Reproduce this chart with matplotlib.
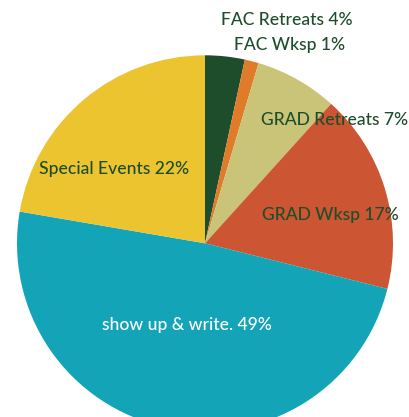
import matplotlib
matplotlib.use("Agg")
import matplotlib.pyplot as plt

categories = ["FAC Retreats", "FAC Wksp", "GRAD Retreats", "GRAD Wksp", "show up & write.", "Special Events"]
values = [3.4, 1.2, 7.1, 17.2, 48.8, 22.3]
label_pct = ["4%", "1%", "7%", "17%", "49%", "22%"]
colors = ["#1e4d2b", "#e07b2a", "#c9c477", "#cc5533", "#13a4b8", "#ebc42f"]

W, H = 409, 417
fig = plt.figure(figsize=(W / 100, H / 100), dpi=100)
ax = fig.add_axes([0, 0, 1, 1])

cx, cy, r = 205, H - 243.3, 188
ax.pie(values, colors=colors, startangle=90, counterclock=False,
       center=(cx, cy), radius=r, wedgeprops=dict(linewidth=0))
ax.set_xlim(0, W)
ax.set_ylim(0, H)
ax.set_aspect("equal", adjustable="datalim")
ax.axis("off")

# label centers in pixel coordinates (x, y from top)
label_pos = [(287, 20), (290, 45), (335, 120), (330, 215), (187, 325), (114, 169)]
text_colors = ["#1e4d2b"] * 4 + ["white", "#1e4d2b"]
for cat, pct, (px, py), tc in zip(categories, label_pct, label_pos, text_colors):
    ax.text(px, H - py, f"{cat} {pct}", ha="center", va="center",
            fontsize=12.6, family="Lato", fontweight="medium", color=tc)

fig.savefig("out.png", dpi=100)
